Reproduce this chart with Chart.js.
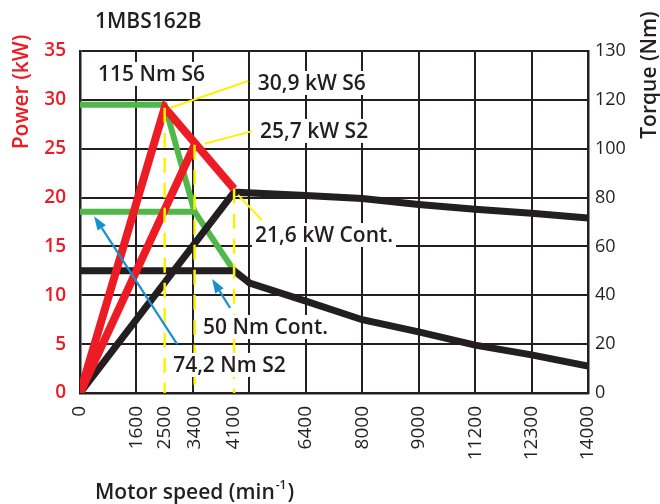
<!DOCTYPE html>
<html lang="en">
<head>
<meta charset="UTF-8">
<title>1MBS162B</title>
<style>
  body { margin: 0; background: #fff; }
  canvas { display: block; }
</style>
</head>
<body>
<canvas id="motorChart" width="660" height="504"></canvas>
<script src="https://cdn.jsdelivr.net/npm/chart.js"></script>
<script>
// speed axis labels, and where each label sits on the 9 grid columns
const speedLabels = ['0', '1600', '2500', '3400', '4100', '6400', '8000', '9000', '11200', '12300', '14000'];
const speedRpm = [0, 1600, 2500, 3400, 4100, 6400, 8000, 9000, 11200, 12300, 14000];
const speedPos = [0, 1, 1.5, 2.03, 2.73, 4, 5, 6, 7, 8, 9];
const gridPos = [0, 1, 2, 3, 4, 5, 6, 7, 8, 9];

// right axis labels (top one is printed as 130 on the original)
const torqueTickLabels = ['0', '20', '40', '60', '80', '100', '120', '130'];

// torque curves (Nm)
const s6TorqueRpm = [0, 2500, 3400, 4100];
const s6Torque = [118, 118, 74.2, 50];
const s2TorqueRpm = [0, 3400];
const s2Torque = [74.2, 74.2];
const contTorqueRpm = [0, 4100, 4600, 6400, 8000, 9000, 11200, 12300, 14000];
const contTorque = [50, 50, 45, 37.6, 30, 25, 19.6, 15.6, 11];

// power curves (kW)
const s6PowerRpm = [0, 2500, 4100];
const s6Power = [0, 29.2, 20.9];
const s2PowerRpm = [0, 3400];
const s2Power = [0, 25.4];
const contPowerRpm = [0, 4100, 6400, 8000, 9000, 11200, 12300, 14000];
const contPower = [0, 20.55, 20.2, 19.9, 19.3, 18.8, 18.4, 17.9];

// yellow dashed markers down to the speed axis
const markerRpm = [2500, 3400, 4100];
const markerPower = [29.2, 25.4, 20.9];

// callouts (x in grid columns, y in kW)
const noteTexts = ['115 Nm S6', '30,9 kW S6', '25,7 kW S2', '21,6 kW Cont.', '50 Nm Cont.', '74,2 Nm S2'];
const noteX = [0.32, 3.15, 3.19, 3.10, 2.18, 1.65];
const noteY = [32.65, 31.73, 26.82, 16.17, 6.76, 2.87];
const leaderFrom = [[1.59, 29.17], [2.21, 25.5], [2.80, 20.27]];
const leaderTo = [[2.98, 31.93], [3.05, 26.8], [3.22, 17.7]];
const arrowTail = [[1.72, 5.0], [2.66, 8.7]];
const arrowTip = [[0.25, 18.1], [2.34, 11.67]];

const FONT = "'Open Sans', 'Noto Sans', sans-serif";
const DARK = '#231f20';
const RED = '#ed1c24';
const GREEN = '#50b848';
const YELLOW = '#fff200';
const BLUE = '#1691d0';

// rpm -> position along the (uneven) speed axis
function speedToPos(rpm) {
    for (let i = 1; i < speedRpm.length; i++) {
        if (rpm <= speedRpm[i]) {
            const t = (rpm - speedRpm[i - 1]) / (speedRpm[i] - speedRpm[i - 1]);
            return speedPos[i - 1] + t * (speedPos[i] - speedPos[i - 1]);
        }
    }
    return speedPos[speedPos.length - 1];
}

function points(rpms, vals) {
    return rpms.map((r, i) => ({ x: speedToPos(r), y: vals[i] }));
}

function lineSet(data, color, width, axis, order) {
    return {
        data: data, yAxisID: axis, borderColor: color, borderWidth: width,
        pointRadius: 0, tension: 0, fill: false, order: order,
        borderJoinStyle: 'miter', borderCapStyle: 'butt'
    };
}

const datasets = [
    lineSet(points(s6TorqueRpm, s6Torque), GREEN, 6, 'y1', 6),
    lineSet(points(s2TorqueRpm, s2Torque), GREEN, 6, 'y1', 6),
    lineSet(points(contTorqueRpm, contTorque), DARK, 7, 'y1', 5),
    lineSet(points(contPowerRpm, contPower), DARK, 7, 'y', 5),
    lineSet(points(s2PowerRpm, s2Power), RED, 8, 'y', 4),
    lineSet(points(s6PowerRpm, s6Power), RED, 8, 'y', 4)
];
markerRpm.forEach((r, i) => {
    const ds = lineSet(points([r, r], [markerPower[i], 0]), YELLOW, 2.5, 'y', 2);
    ds.borderDash = [15, 10];
    datasets.push(ds);
});

const allTickPos = Array.from(new Set(gridPos.concat(speedPos))).sort((a, b) => a - b);

function labelAt(v) {
    const i = speedPos.findIndex(p => Math.abs(p - v) < 1e-6);
    return i >= 0 ? speedLabels[i] : '';
}

const callouts = {
    id: 'callouts',
    afterDatasetsDraw(chart) {
        const c = chart.ctx;
        const xs = chart.scales.x, ys = chart.scales.y;
        const px = v => xs.getPixelForValue(v);
        const py = v => ys.getPixelForValue(v);
        c.save();
        // yellow leader lines
        c.strokeStyle = YELLOW;
        c.lineWidth = 2;
        leaderFrom.forEach((f, i) => {
            c.beginPath();
            c.moveTo(px(f[0]), py(f[1]));
            c.lineTo(px(leaderTo[i][0]), py(leaderTo[i][1]));
            c.stroke();
        });
        // blue arrows
        c.strokeStyle = BLUE;
        c.fillStyle = BLUE;
        arrowTail.forEach((t, i) => {
            const x0 = px(t[0]), y0 = py(t[1]);
            const x1 = px(arrowTip[i][0]), y1 = py(arrowTip[i][1]);
            const a = Math.atan2(y1 - y0, x1 - x0);
            const len = 14, hw = 5;
            const bx = x1 - len * Math.cos(a), by = y1 - len * Math.sin(a);
            c.lineWidth = 2.2;
            c.beginPath();
            c.moveTo(x0, y0);
            c.lineTo(bx, by);
            c.stroke();
            c.beginPath();
            c.moveTo(x1, y1);
            c.lineTo(bx + hw * Math.sin(a), by - hw * Math.cos(a));
            c.lineTo(bx - hw * Math.sin(a), by + hw * Math.cos(a));
            c.closePath();
            c.fill();
        });
        // labels on white boxes
        c.font = '600 21px ' + FONT;
        c.textBaseline = 'middle';
        c.textAlign = 'left';
        noteTexts.forEach((t, i) => {
            const x = px(noteX[i]), y = py(noteY[i]);
            const w = c.measureText(t).width;
            c.fillStyle = '#fff';
            c.fillRect(x - 3, y - 12, w + 6, 24);
            c.fillStyle = DARK;
            c.fillText(t, x, y + 1);
        });
        c.restore();
    },
    afterDraw(chart) {
        const c = chart.ctx;
        c.save();
        c.textBaseline = 'middle';
        c.fillStyle = DARK;
        c.font = '600 21px ' + FONT;
        c.textAlign = 'left';
        c.fillText('1MBS162B', 95, 22);

        // speed axis title with superscript
        let x = 95;
        const y = 493;
        c.fillText('Motor speed (min', x, y);
        x += c.measureText('Motor speed (min').width;
        c.font = '600 12px ' + FONT;
        c.fillText('-1', x + 1, y - 7);
        x += c.measureText('-1').width + 2;
        c.font = '600 21px ' + FONT;
        c.fillText(')', x, y);

        c.textAlign = 'center';
        c.save();
        c.translate(22, 92);
        c.rotate(-Math.PI / 2);
        c.fillStyle = RED;
        c.fillText('Power (kW)', 0, 0);
        c.restore();

        c.save();
        c.translate(650, 75);
        c.rotate(-Math.PI / 2);
        c.fillText('Torque (Nm)', 0, 0);
        c.restore();
        c.restore();
    }
};

new Chart(document.getElementById('motorChart'), {
    type: 'line',
    data: { datasets: datasets },
    plugins: [callouts],
    options: {
        responsive: false,
        animation: false,
        devicePixelRatio: 1,
        layout: { padding: { top: 51, left: 0, right: 0, bottom: 0 } },
        plugins: { legend: { display: false }, tooltip: { enabled: false } },
        scales: {
            x: {
                type: 'linear', min: 0, max: 9,
                afterBuildTicks: s => { s.ticks = allTickPos.map(v => ({ value: v })); },
                afterFit: s => { s.height = 111; },
                grid: {
                    lineWidth: 2, drawTicks: false,
                    color: ctx => (ctx.tick && gridPos.includes(ctx.tick.value)) ? DARK : 'rgba(0,0,0,0)'
                },
                border: { color: DARK, width: 2.5 },
                ticks: {
                    autoSkip: false, minRotation: 90, maxRotation: 90, padding: 13,
                    color: DARK, font: { family: FONT, size: 19 },
                    callback: v => labelAt(v)
                }
            },
            y: {
                position: 'left', min: 0, max: 35,
                afterFit: s => { s.width = 80; },
                grid: { color: DARK, lineWidth: 2, drawTicks: false },
                border: { color: DARK, width: 2.5 },
                ticks: {
                    stepSize: 5, padding: 14, color: RED,
                    font: { family: FONT, size: 19, weight: '600' }
                }
            },
            y1: {
                position: 'right', min: 0, max: 140,
                afterFit: s => { s.width = 72; },
                grid: { display: false, drawTicks: false },
                border: { color: DARK, width: 2.5 },
                ticks: {
                    stepSize: 20, padding: 7, color: DARK,
                    font: { family: FONT, size: 18, weight: '500' },
                    callback: (v, i) => torqueTickLabels[i]
                }
            }
        }
    }
});
</script>
</body>
</html>
